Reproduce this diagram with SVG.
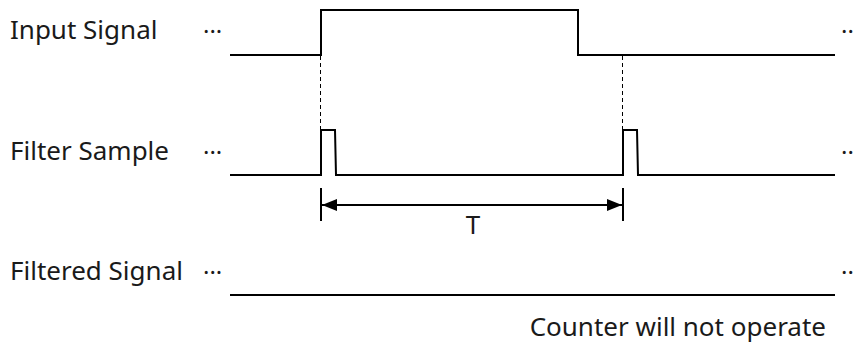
<svg xmlns="http://www.w3.org/2000/svg" width="853" height="343" viewBox="0 0 853 343">
<style>
.lbl{font-family:"Noto Sans","Open Sans",sans-serif;font-size:26px;fill:#1a1a1a}
.dots{font-family:"Noto Sans","Open Sans",sans-serif;font-size:24px;fill:#1a1a1a}
.sig{fill:none;stroke:#000;stroke-width:2}
.dash{fill:none;stroke:#000;stroke-width:1;stroke-dasharray:4 3}
</style>
<defs>
<marker id="ah" viewBox="0 0 15 12" refX="15" refY="6" markerWidth="15" markerHeight="12" markerUnits="userSpaceOnUse" orient="auto-start-reverse">
<path d="M0,0 L15,6 L0,12 Z" fill="#000"/>
</marker>
</defs>
<g id="input-signal">
<text class="lbl" x="10" y="39">Input Signal</text>
<text class="dots" x="203" y="40">···</text>
<text class="dots" x="841" y="40">··</text>
<path class="sig" d="M230,55 H321 V10 H578 V55 H835"/>
</g>
<g id="filter-sample">
<text class="lbl" x="10" y="160">Filter Sample</text>
<text class="dots" x="203" y="161">···</text>
<text class="dots" x="841" y="161">··</text>
<path class="sig" d="M230,175 H321 V130 H335 L336,175 H623 V130 H637 L638,175 H835"/>
</g>
<g id="filtered-signal">
<text class="lbl" x="10" y="280">Filtered Signal</text>
<text class="dots" x="203" y="281">···</text>
<text class="dots" x="841" y="281">··</text>
<path class="sig" d="M230,295 H835"/>
<text class="lbl" x="826" y="336" text-anchor="end">Counter will not operate</text>
</g>
<g id="connectors">
<path class="dash" d="M320.5,56 V130"/>
<path class="dash" d="M622.5,56 V130"/>
<path class="sig" d="M321,188 V221 M623,188 V221"/>
<path class="sig" d="M322,205 H622" marker-start="url(#ah)" marker-end="url(#ah)"/>
<text class="lbl" x="473" y="234" text-anchor="middle">T</text>
</g>
</svg>
